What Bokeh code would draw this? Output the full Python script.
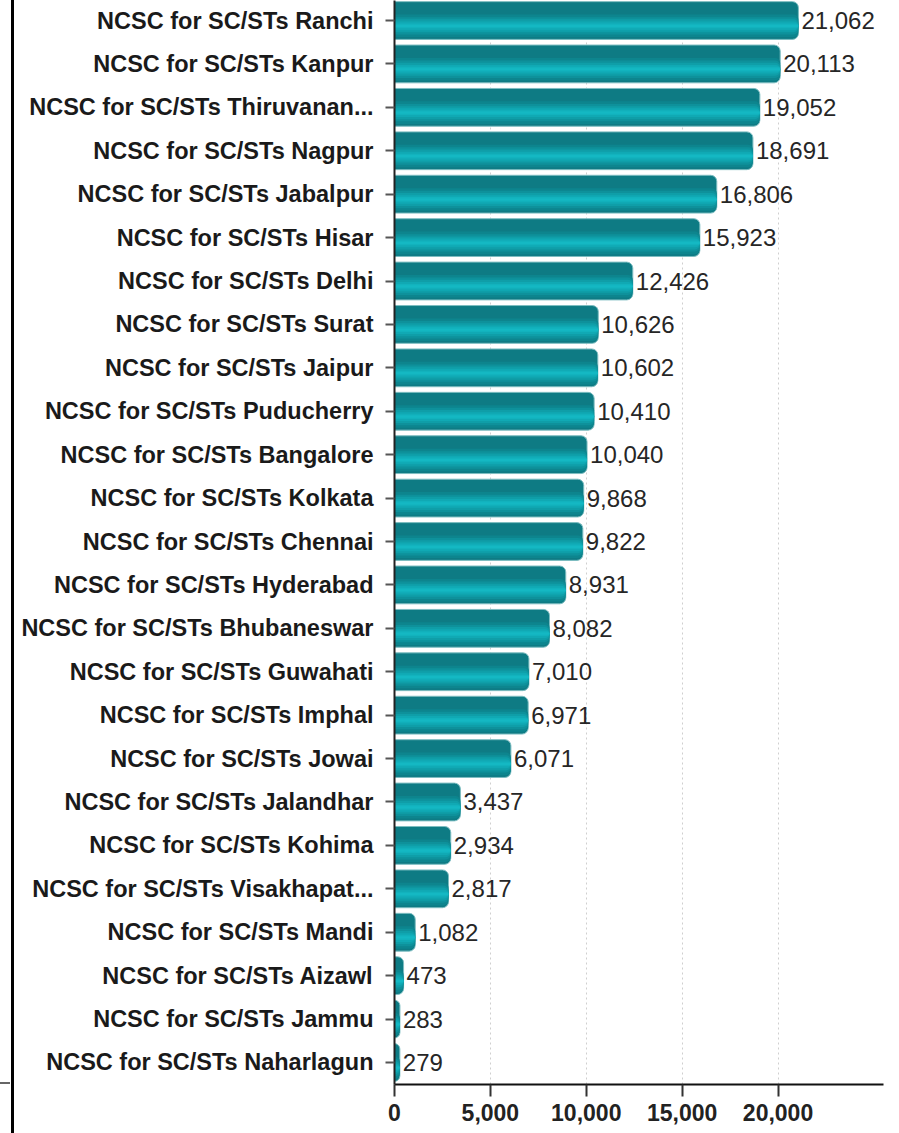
from bokeh.plotting import figure
from bokeh.layouts import row
from bokeh.models import Range1d, FixedTicker, ColumnDataSource, NumeralTickFormatter, Div
from bokeh.core.properties import value
from bokeh.transform import dodge
from bokeh.embed import file_html
from bokeh.resources import INLINE

offices = [
    "NCSC for SC/STs Ranchi", "NCSC for SC/STs Kanpur", "NCSC for SC/STs Thiruvanan...",
    "NCSC for SC/STs Nagpur", "NCSC for SC/STs Jabalpur", "NCSC for SC/STs Hisar",
    "NCSC for SC/STs Delhi", "NCSC for SC/STs Surat", "NCSC for SC/STs Jaipur",
    "NCSC for SC/STs Puducherry", "NCSC for SC/STs Bangalore", "NCSC for SC/STs Kolkata",
    "NCSC for SC/STs Chennai", "NCSC for SC/STs Hyderabad", "NCSC for SC/STs Bhubaneswar",
    "NCSC for SC/STs Guwahati", "NCSC for SC/STs Imphal", "NCSC for SC/STs Jowai",
    "NCSC for SC/STs Jalandhar", "NCSC for SC/STs Kohima", "NCSC for SC/STs Visakhapat...",
    "NCSC for SC/STs Mandi", "NCSC for SC/STs Aizawl", "NCSC for SC/STs Jammu",
    "NCSC for SC/STs Naharlagun",
]
counts = [21062, 20113, 19052, 18691, 16806, 15923, 12426, 10626, 10602, 10410, 10040,
          9868, 9822, 8931, 8082, 7010, 6971, 6071, 3437, 2934, 2817, 1082, 473, 283, 279]
x_ticks = [0, 5000, 10000, 15000, 20000]

n = len(offices)
ypos = [n - 1 - i for i in range(n)]
labels = [f"{v:,}" for v in counts]
src = ColumnDataSource(dict(y=ypos, v=counts, lab=labels))

p = figure(width=883, height=1133, output_backend="svg", toolbar_location=None,
           x_range=Range1d(0, 25500), y_range=Range1d(-0.507, 24.461),
           min_border_left=378, min_border_right=16, min_border_top=0, min_border_bottom=49)
p.outline_line_color = None
p.background_fill_color = "white"
p.border_fill_color = "white"

H = 0.87
off = -0.122
p.hbar(y="y", left=0, right="v", height=H, source=src, fill_color="#0e7b84",
       line_color="#7dbdc1", line_width=1, border_radius=(0, 6, 6, 0))
layers = [(0.52, "#0d858e"), (0.40, "#0e919b"), (0.30, "#0f9ea8"),
          (0.20, "#10a9b4"), (0.11, "#12b2bd"), (0.05, "#14b8c3")]
for h, c in layers:
    p.hbar(y=dodge("y", off), left=0, right="v", height=h, source=src,
           fill_color=c, line_color=None, border_radius=(0, 5, 5, 0))

p.text(x="v", y="y", text="lab", source=src, x_offset=3, text_align="left",
       text_baseline="middle", text_font_size=value("24px"), text_color="#262626",
       text_font=value("Liberation Sans"))

p.xaxis.ticker = FixedTicker(ticks=x_ticks)
p.xaxis.formatter = NumeralTickFormatter(format="0,0")
p.xaxis.axis_line_color = "#111"
p.xaxis.axis_line_width = 2
p.xaxis.major_tick_line_color = "#333"
p.xaxis.major_tick_line_width = 2
p.xaxis.major_tick_out = 12
p.xaxis.major_tick_in = 0
p.xaxis.minor_tick_line_color = None
p.xaxis.major_label_standoff = 7
p.xaxis.major_label_text_font = "Liberation Sans"
p.xaxis.major_label_text_font_size = "23px"
p.xaxis.major_label_text_font_style = "bold"
p.xaxis.major_label_text_color = "#222"

p.yaxis.ticker = FixedTicker(ticks=ypos)
p.yaxis.major_label_overrides = {y: t for y, t in zip(ypos, offices)}
p.yaxis.axis_line_color = "#222"
p.yaxis.axis_line_width = 2
p.yaxis.major_tick_line_color = "#555"
p.yaxis.major_tick_line_width = 2
p.yaxis.major_tick_out = 9
p.yaxis.major_tick_in = 0
p.yaxis.minor_tick_line_color = None
p.yaxis.major_label_standoff = 12
p.yaxis.major_label_text_font = "Liberation Sans"
p.yaxis.major_label_text_font_size = "23.5px"
p.yaxis.major_label_text_font_style = "bold"
p.yaxis.major_label_text_color = "#1a1a1a"

p.xgrid.grid_line_color = "#cfcfcf"
p.xgrid.grid_line_dash = "2 3"
p.xgrid.grid_line_width = 1
p.ygrid.grid_line_color = None

edge = Div(width=16, height=1133, margin=0, styles={
    "background": "linear-gradient(to bottom, transparent 1082px, #666 1082px, #666 1084px, transparent 1084px) 0 0 / 10px 100% no-repeat, "
                  "linear-gradient(to right, #fff 11px, #000 11px, #000 14px, #fff 14px)"
})

layout = row(edge, p, spacing=0)
open("out.html", "w").write(file_html(layout, INLINE))
